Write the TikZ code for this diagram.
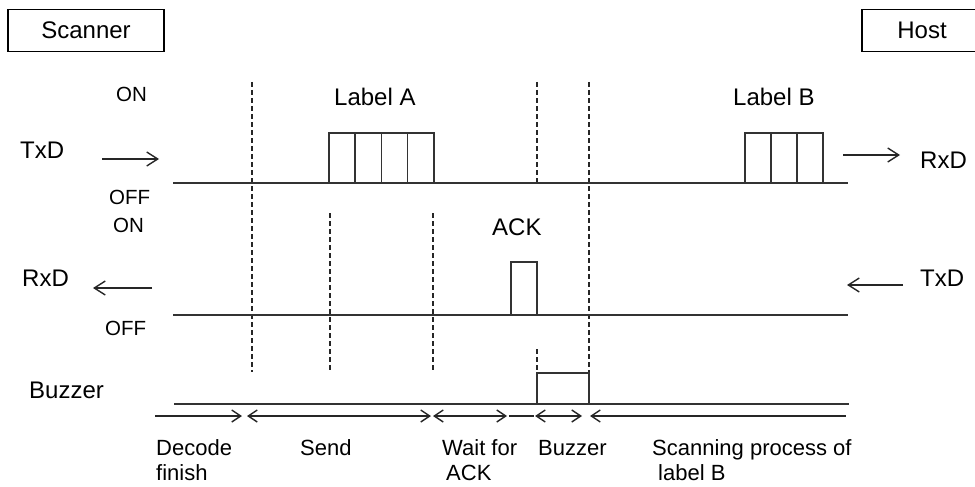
\documentclass[tikz,border=0pt]{standalone}
\usepackage{fontspec}
\setmainfont{Liberation Sans}
\usetikzlibrary{arrows.meta}
\begin{document}
\begin{tikzpicture}[x=1pt,y=-1pt,
  sig/.style={line width=1.4pt, draw=black!80},
  guide/.style={line width=1.2pt, draw=black!85, dash pattern=on 5pt off 3pt},
  big/.style={font=\fontsize{24}{28}\selectfont, inner sep=0pt, anchor=base west},
  mid/.style={font=\fontsize{22}{26}\selectfont, inner sep=0pt, anchor=base west},
  small/.style={font=\fontsize{20.5}{24}\selectfont, inner sep=0pt, anchor=base west},
  hostbox/.style={draw, line width=1.1pt, minimum height=42pt, inner sep=0pt, font=\fontsize{24}{28}\selectfont},
  dirarrow/.style={line width=1.4pt, draw=black!85, -{Straight Barb[length=11pt,width=14pt,line width=1.4pt]}},
  spanarrow/.style={line width=1.4pt, draw=black!85},
  tipB/.tip={Straight Barb[length=9pt,width=12pt,line width=1.4pt]}
]
\useasboundingbox (0,0) rectangle (975,487);

% header boxes
\node[hostbox, minimum width=156pt] (scanner) at (86,30.5) {Scanner};
\node[hostbox, minimum width=120pt] (host) at (922,30.5) {Host};

% level labels
\node[small] (on1) at (116,102) {ON};
\node[small] (off1) at (109,204) {OFF};
\node[small] (on2) at (113,232) {ON};
\node[small] (off2) at (105,335) {OFF};

% signal names
\node[big] (txdL) at (20,158) {TxD};
\node[big] (rxdL) at (22,286) {RxD};
\node[big] (rxdR) at (920,168) {RxD};
\node[big] (txdR) at (920,286) {TxD};
\node[big] (buzL) at (29,398) {Buzzer};
\node[big] (labA) at (334,105) {Label A};
\node[big] (labB) at (733,105) {Label B};
\node[big] (ack) at (492,235) {ACK};

% direction arrows
\coordinate (txdLa) at (102,159); \coordinate (txdLb) at (159,159);
\coordinate (rxdLa) at (152,288); \coordinate (rxdLb) at (93,288);
\coordinate (rxdRa) at (843,155); \coordinate (rxdRb) at (900,155);
\coordinate (txdRa) at (903,285); \coordinate (txdRb) at (847,285);
\draw[dirarrow] (txdLa) -- (txdLb);
\draw[dirarrow] (rxdLa) -- (rxdLb);
\draw[dirarrow] (rxdRa) -- (rxdRb);
\draw[dirarrow] (txdRa) -- (txdRb);

% dashed guides
\draw[guide] (252,82) -- (252,372);
\draw[guide] (330,213) -- (330,372);
\draw[guide] (433,213) -- (433,372);
\draw[guide] (537,82) -- (537,183);
\draw[guide] (537,349) -- (537,373);
\draw[guide] (589,82) -- (589,373);

% TxD line with Label A / Label B frames
\draw[sig] (173,183) -- (848,183);
\draw[sig] (329,183) |- (434,133) -- (434,183);
\draw[sig] (355,133) -- (355,183) (381.5,133) -- (381.5,183) (407.5,133) -- (407.5,183);
\draw[sig] (745,183) |- (823,133) -- (823,183);
\draw[sig] (771,133) -- (771,183) (797,133) -- (797,183);

% RxD line with ACK pulse
\draw[sig] (173,315) -- (848,315);
\draw[sig] (511,315) |- (537,262) -- (537,315);

% Buzzer line with pulse
\draw[sig] (174,404) -- (849,404);
\draw[sig] (537,404) |- (589,373) -- (589,404);

% timeline spans
\draw[spanarrow, -tipB] (155,416) -- (242,416);
\draw[spanarrow, tipB-tipB] (247,416) -- (431,416);
\draw[spanarrow, tipB-tipB] (433,416) -- (507,416);
\draw[spanarrow] (509,416) -- (534,416);
\draw[spanarrow, tipB-tipB] (535,416) -- (582,416);
\draw[spanarrow, tipB-] (590,416) -- (846,416);

% phase labels
\node[mid] (dec1) at (156,455) {Decode};
\node[mid] (dec2) at (156,480) {finish};
\node[mid] (send) at (300,455) {Send};
\node[mid] (wait1) at (442,455) {Wait for};
\node[mid] (wait2) at (446,480) {ACK};
\node[mid] (buz) at (538,455) {Buzzer};
\node[mid] (scan1) at (652,455) {Scanning process of};
\node[mid] (scan2) at (658,480) {label B};
\end{tikzpicture}
\end{document}
